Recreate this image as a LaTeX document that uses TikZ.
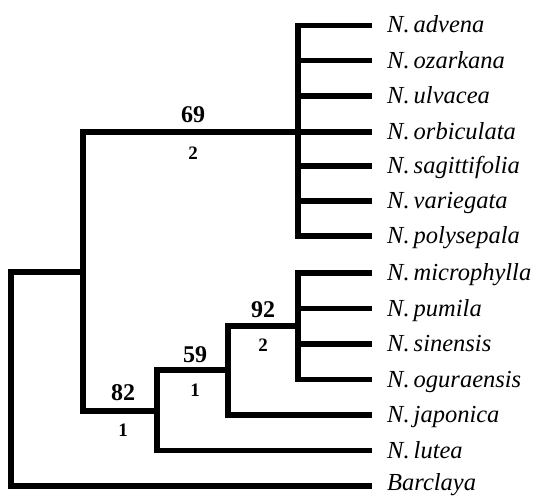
\documentclass[tikz,border=0pt]{standalone}
\usepackage{fontspec}
\setmainfont{Liberation Serif}
\begin{document}
\begin{tikzpicture}[x=1pt,y=-1pt,
  branch/.style={line width=5.5pt,line join=miter,line cap=butt},
  taxon/.style={anchor=base west,inner sep=0pt,font=\fontsize{24.5}{28}\selectfont\itshape},
  boot/.style={inner sep=0pt,font=\fontsize{24}{28}\selectfont\bfseries},
  steps/.style={inner sep=0pt,font=\fontsize{19}{22}\selectfont\bfseries}]
\useasboundingbox (0,0) rectangle (537,495);
% leaf tips
\foreach \i/\y in {1/25.5,2/60.5,3/96,4/132,5/166,6/201,7/236,8/273,9/308.5,10/344,11/379.5,12/415,13/450.5,14/486}
  \coordinate (l\i) at (372,\y);
% internal nodes
\coordinate (P) at (298,132);
\coordinate (A) at (83,272);
\coordinate (Rb) at (11,486);
\coordinate (B) at (157,411);
\coordinate (C) at (228,370);
\coordinate (D) at (298,326);
% labels
\foreach \i/\t in {1/advena,2/ozarkana,3/ulvacea,4/orbiculata,5/sagittifolia,6/variegata,7/polysepala,8/microphylla,9/pumila,10/sinensis,11/oguraensis,12/japonica,13/lutea}
  \node[taxon] (t\i) at ([xshift=15pt,yshift=-7.5pt]l\i) {N.\,\t};
\node[taxon] (t14) at ([xshift=15pt,yshift=-4pt]l14) {Barclaya};
% branches
\draw[branch] (l1) -| (P) |- (l7);
\foreach \i in {2,3,4,5,6} \draw[branch] (P|-l\i) -- (l\i);
\draw[branch] (P) -| (A) |- (B);
\draw[branch] (A) -| (Rb) -- (l14);
\draw[branch] (C) -| (B) |- (l13);
\draw[branch] (D) -| (C) |- (l12);
\draw[branch] (l8) -| (D) |- (l11);
\foreach \i in {9,10} \draw[branch] (D|-l\i) -- (l\i);
% support values
\node[boot] (b69) at (193,115) {69};
\node[steps] (s69) at (193,153) {2};
\node[boot] (b92) at (263,310) {92};
\node[steps] (s92) at (263,345) {2};
\node[boot] (b59) at (195,355) {59};
\node[steps] (s59) at (195,390) {1};
\node[boot] (b82) at (123,393) {82};
\node[steps] (s82) at (123,430) {1};
\end{tikzpicture}
\end{document}
